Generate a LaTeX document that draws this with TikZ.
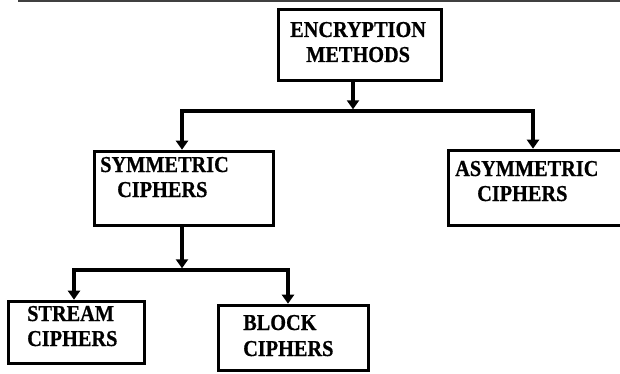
\documentclass[tikz,border=0pt]{standalone}
\usepackage{fontspec}
\setmainfont{Liberation Serif}[BoldFont={Liberation Serif Bold},BoldFeatures={FakeBold=0.7}]
\usetikzlibrary{arrows.meta}

\begin{document}
\begin{tikzpicture}[x=1pt,y=-1pt,
  box/.style={draw=black,line width=3.6pt,rectangle,inner sep=0pt,fill=white},
  lbl/.style={anchor=base west,inner sep=0pt,font=\fontsize{20.3}{25}\selectfont\bfseries},
  link/.style={line width=3.4pt},
  arr/.style={line width=3.4pt,-{Triangle[width=12pt,length=9pt]}}]

\useasboundingbox (0,0) rectangle (620,374);

% rule across the top of the page
\draw[black!75,line width=2pt] (18,1) -- (620,1);

% boxes
\node[box,minimum width=163pt,minimum height=71pt] (enc) at (360,45) {};
\node[box,minimum width=179pt,minimum height=74pt] (sym) at (184,188.5) {};
\begin{scope}
  \clip (0,0) rectangle (620,374);
  \node[box,minimum width=182pt,minimum height=75pt] (asym) at (539.5,188) {};
\end{scope}
\node[box,minimum width=136pt,minimum height=62pt] (stream) at (76.5,332.5) {};
\node[box,minimum width=150pt,minimum height=65pt] (block) at (293.5,338) {};

% labels
\node[lbl] (encA) at (290,37) {\scalebox{1}[1.12]{ENCRYPTION}};
\node[lbl] (encB) at (306,62) {\scalebox{1}[1.12]{METHODS}};
\node[lbl] (symA) at (100,172) {\scalebox{1}[1.12]{SYMMETRIC}};
\node[lbl] (symB) at (117,197) {\scalebox{1}[1.12]{CIPHERS}};
\node[lbl] (asymA) at (455,176) {\scalebox{1}[1.12]{ASYMMETRIC}};
\node[lbl] (asymB) at (477,201) {\scalebox{1}[1.12]{CIPHERS}};
\node[lbl] (strA) at (27,321) {\scalebox{1}[1.12]{STREAM}};
\node[lbl] (strB) at (27,346) {\scalebox{1}[1.12]{CIPHERS}};
\node[lbl] (blkA) at (243,330) {\scalebox{1}[1.12]{BLOCK}};
\node[lbl] (blkB) at (243,356) {\scalebox{1}[1.12]{CIPHERS}};

% junction points
\coordinate (j1) at (353,111);
\coordinate (j1l) at (182,111);
\coordinate (j1r) at (533,111);
\coordinate (j2) at (182,270);
\coordinate (j2l) at (74,270);
\coordinate (j2r) at (288,270);

% first level
\draw[link] ([xshift=-1.7pt]j1l) -- ([xshift=1.7pt]j1r);
\draw[arr] (j1 |- enc.south) -- ([yshift=1.7pt]j1);
\draw[arr] ([yshift=-1.7pt]j1l) -- (j1l |- sym.north);
\draw[arr] ([yshift=-1.7pt]j1r) -- (j1r |- asym.north);

% second level
\draw[link] ([xshift=-1.7pt]j2l) -- ([xshift=1.7pt]j2r);
\draw[arr] (j2 |- sym.south) -- ([yshift=1.7pt]j2);
\draw[arr] ([yshift=-1.7pt]j2l) -- (j2l |- stream.north);
\draw[arr] ([yshift=-1.7pt]j2r) -- (j2r |- block.north);
\end{tikzpicture}
\end{document}
